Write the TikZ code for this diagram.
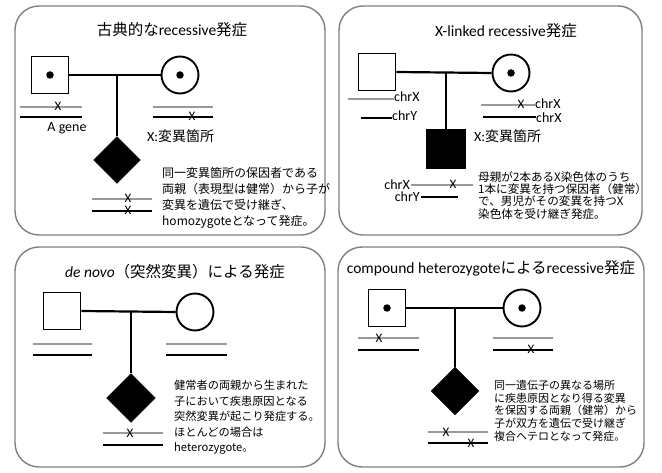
\documentclass[tikz,border=0pt]{standalone}
\usepackage{fontspec}
\setmainfont{Carlito}
\newfontfamily\cjk{Noto Sans CJK JP}
\usetikzlibrary{shapes.geometric}
\tikzset{
  panel/.style={draw=black!50, line width=1.4pt, rounded corners=24pt},
  pline/.style={line width=2.2pt},
  male/.style={draw, rectangle, line width=1.9pt, minimum size=37pt, inner sep=0pt},
  female/.style={draw, circle, line width=1.9pt, minimum size=37pt, inner sep=0pt},
  affsq/.style={male, fill=black},
  affdia/.style={draw, diamond, fill=black, minimum size=47pt, inner sep=0pt},
  dotc/.style={fill=black, circle, minimum size=7.5pt, inner sep=0pt},
  chrg/.style={draw=black!40, line width=1.7pt},
  chrb/.style={draw=black, line width=1.6pt},
  mut/.style={inner sep=0pt, text height=8pt, text depth=0pt, font=\fontsize{13}{13}\selectfont},
  ttl/.style={font=\fontsize{15.5}{18}\selectfont},
  lbl/.style={font=\fontsize{14}{16}\selectfont, inner sep=0pt, text height=9pt, text depth=0pt},
  lbly/.style={font=\fontsize{14}{16}\selectfont, inner sep=0pt, text height=9pt, text depth=2pt},
  body/.style={align=left, inner sep=0pt, anchor=north west}
}
\begin{document}
\begin{tikzpicture}[x=1pt, y=-1pt]
\useasboundingbox (0,0) rectangle (662,473);
% ---------- panels
\draw[panel] (15,6) rectangle (325,235);
\draw[panel] (339,6) rectangle (642,235);
\draw[panel] (15,247) rectangle (325,467);
\draw[panel] (338,247) rectangle (644,467);

% ================= Panel 1
\node[ttl] (t1) at (172,30) {{\cjk 古典的な}recessive{\cjk 発症}};
\node[male] (f1) at (50,75) {};
\node[dotc] (f1d) at (f1) {};
\node[female] (m1) at (180,75) {};
\node[dotc] (m1d) at (m1) {};
\node[affdia] (c1) at (117,160) {};
\draw[pline] (f1.east) -- (m1.west);
\draw[pline] (c1.north) -- (c1.north |- f1.east);
% chromosomes
\draw[chrg] (20,107) -- (82,107);
\draw[chrb] (20,117) -- (82,117);
\node[mut] (x1a) at (58,107) {X};
\node[lbl, anchor=north] (ag) at (67,122) {A gene};
\draw[chrg] (153,107) -- (213,107);
\draw[chrb] (153,117) -- (213,117);
\node[mut] (x1b) at (192,117) {X};
\node[lbl, anchor=west] (xl1) at (147,137) {X:{\cjk 変異箇所}};
\draw[chrg] (92,199) -- (152,199);
\draw[chrb] (92,211) -- (152,211);
\node[mut] (x1c) at (128,199) {X};
\node[mut] (x1d) at (128,211) {X};
\node[body, font=\cjk\fontsize{12}{16}\selectfont] (b1) at (162,167)
  {同一変異箇所の保因者である\\両親（表現型は健常）から子が\\変異を遺伝で受け継ぎ、\\homozygoteとなって発症。};

% ================= Panel 2
\node[ttl] (t2) at (506,31) {X-linked recessive{\cjk 発症}};
\node[male] (f2) at (377,72) {};
\node[female] (m2) at (511,73) {};
\node[dotc] (m2d) at (m2) {};
\node[affsq, minimum size=39pt] (c2) at (446,149) {};
\draw[pline] (f2.east) -- (m2.west);
\draw[pline] (c2.north) -- (c2.north |- f2.east);
\draw[chrg] (348,99) -- (394,99);
\node[lbl, anchor=west] (cx1) at (394,97) {chrX};
\draw[chrb] (361,118) -- (392,118);
\node[lbly, anchor=west] (cy1) at (392,117) {chrY};
\draw[chrg] (481,105) -- (535,105);
\node[mut] (x2a) at (521,105) {X};
\node[lbl, anchor=west] (cx2) at (535,104) {chrX};
\draw[chrb] (483,117) -- (536,117);
\node[lbl, anchor=west] (cx3) at (536,118) {chrX};
\node[lbl, anchor=west] (xl2) at (474,137) {X:{\cjk 変異箇所}};
\node[lbl, anchor=east] (cx4) at (410,185) {chrX};
\draw[chrg] (411,185) -- (473,185);
\node[mut] (x2b) at (453,185) {X};
\node[lbly, anchor=east] (cy2) at (420,198) {chrY};
\draw[chrb] (421,197) -- (458,197);
\node[body, font=\cjk\fontsize{11.6}{12.4}\selectfont] (b2) at (478,171)
  {母親が2本あるX染色体のうち\\1本に変異を持つ保因者（健常）\\で、男児がその変異を持つX\\染色体を受け継ぎ発症。};

% ================= Panel 3
\node[ttl] (t3) at (175,272) {\textit{de novo}{\cjk （突然変異）による発症}};
\node[male] (f3) at (62,311) {};
\node[female] (m3) at (195,312) {};
\node[affdia, minimum size=49pt] (c3) at (131,398) {};
\draw[pline] (f3.east) -- (m3.west);
\draw[pline] (c3.north) -- (c3.north |- f3.east);
\draw[chrg] (33,344) -- (92,344);
\draw[chrb] (33,355) -- (92,355);
\draw[chrg] (166,344) -- (227,344);
\draw[chrb] (166,355) -- (227,355);
\draw[chrg] (103,433) -- (163,433);
\draw[chrb] (103,445) -- (163,445);
\node[mut] (x3a) at (130,433) {X};
\node[body, font=\cjk\fontsize{11.2}{15.5}\selectfont] (b3) at (174,380)
  {健常者の両親から生まれた\\子において疾患原因となる\\突然変異が起こり発症する。\\ほとんどの場合は\\heterozygote。};

% ================= Panel 4
\node[ttl] (t4) at (491,268) {compound heterozygote{\cjk による}recessive{\cjk 発症}};
\node[male] (f4) at (387,308) {};
\node[dotc] (f4d) at (f4) {};
\node[female] (m4) at (522,308) {};
\node[dotc] (m4d) at (m4) {};
\node[affdia, minimum size=48pt] (c4) at (455,391) {};
\draw[pline] (f4.east) -- (m4.west);
\draw[pline] (c4.north) -- (c4.north |- f4.east);
\draw[chrg] (358,338) -- (419,338);
\draw[chrb] (358,350) -- (419,350);
\node[mut] (x4a) at (379,338) {X};
\draw[chrg] (493,338) -- (553,338);
\draw[chrb] (493,350) -- (553,350);
\node[mut] (x4b) at (531,350) {X};
\draw[chrg] (428,432) -- (488,432);
\draw[chrb] (428,443) -- (488,443);
\node[mut] (x4c) at (446,432) {X};
\node[mut] (x4d) at (471,443) {X};
\node[body, font=\cjk\fontsize{11}{12.7}\selectfont] (b4) at (494,380)
  {同一遺伝子の異なる場所\\に疾患原因となり得る変異\\を保因する両親（健常）から\\子が双方を遺伝で受け継ぎ\\複合ヘテロとなって発症。};
\end{tikzpicture}
\end{document}
